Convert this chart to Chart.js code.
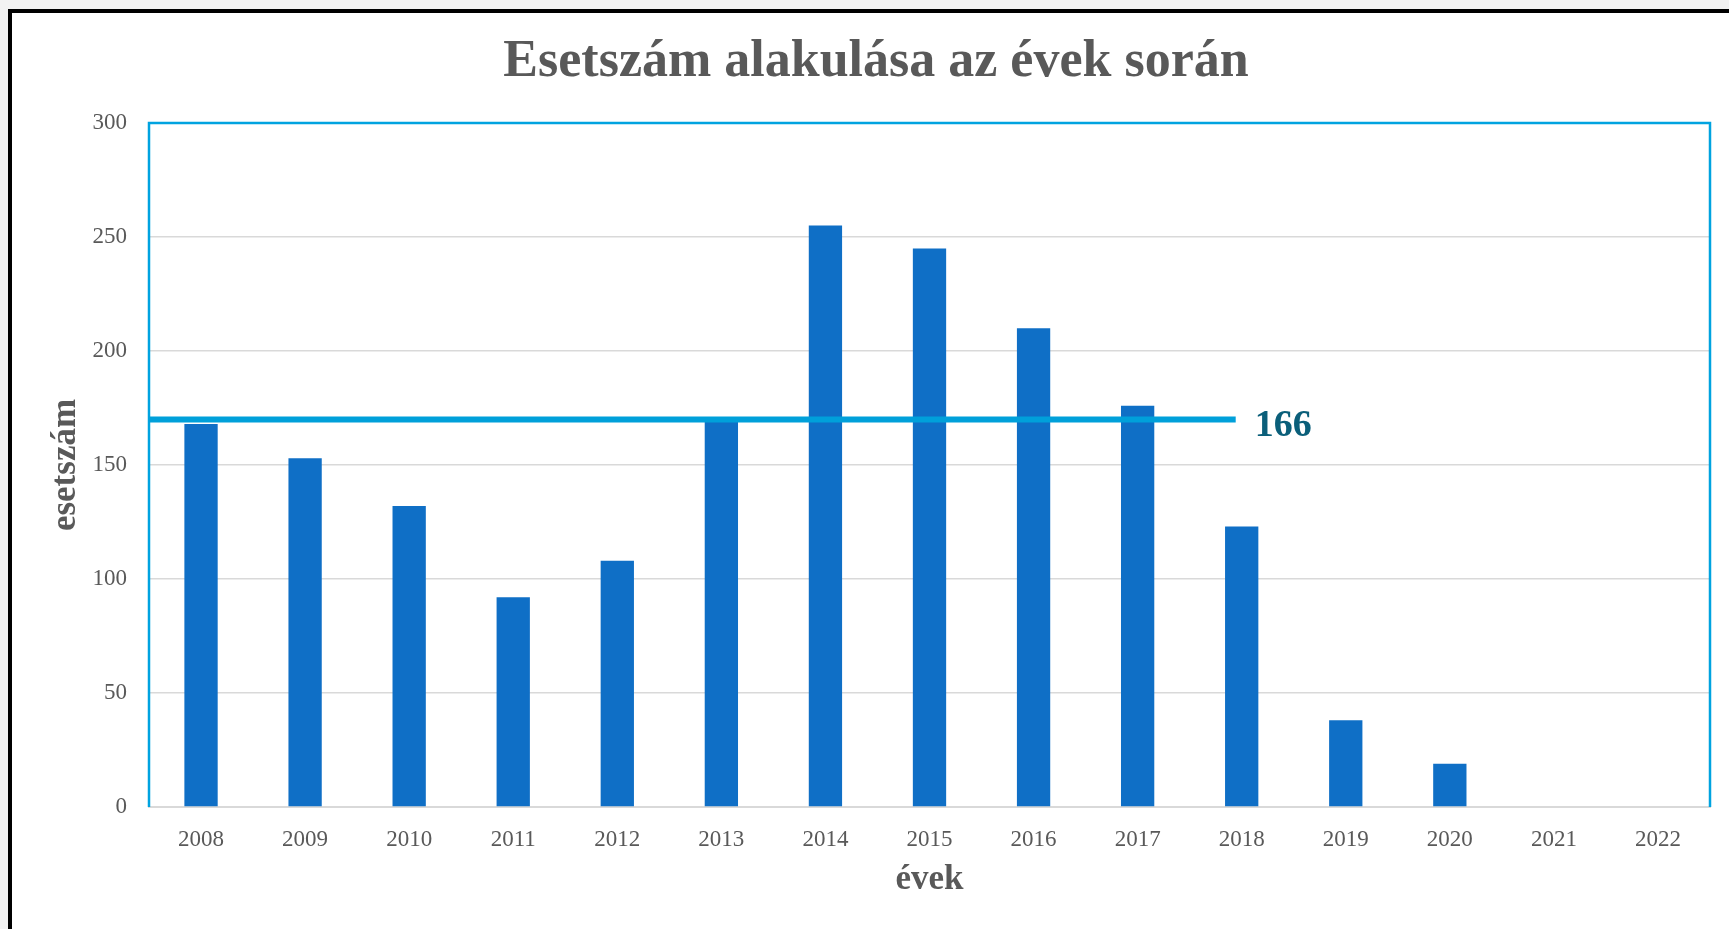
<!DOCTYPE html>
<html>
<head>
<meta charset="utf-8">
<script src="https://cdn.jsdelivr.net/npm/chart.js@4.4.1/dist/chart.umd.min.js"></script>
<style>
  html, body { margin: 0; padding: 0; background: #f2f2f2; overflow: hidden; }
  #frame {
    position: absolute; left: 8px; top: 9px; width: 1800px; height: 1000px;
    background: #fff; border-left: 4px solid #000; border-top: 4px solid #000;
  }
  #wrap { position: absolute; left: 0; top: 0; width: 1729px; height: 929px; }
</style>
</head>
<body>
<div id="frame"></div>
<div id="wrap"><canvas id="chart"></canvas></div>
<script>
// Esetszám alakulása az évek során
const years = ['2008', '2009', '2010', '2011', '2012', '2013', '2014', '2015',
               '2016', '2017', '2018', '2019', '2020', '2021', '2022'];
const cases = [168, 153, 132, 92, 108, 169, 255, 245, 210, 176, 123, 38, 19, null, null];

const yMin = 0;
const yMax = 300;
const yStep = 50;

// average line drawn across the plot
const averageValue = 170;
const averageLabel = '166';
const averageEndYear = '2018';

const textGray = '#595959';
const serif = '"Liberation Serif", "DejaVu Serif", serif';

// title, blue plot frame and the average line
const decorPlugin = {
    id: 'decor',
    beforeDatasetsDraw(chart) {
        const { ctx, chartArea } = chart;
        ctx.save();
        ctx.strokeStyle = '#00a3e0';
        ctx.lineWidth = 2.5;
        ctx.beginPath();
        ctx.moveTo(chartArea.left, chartArea.bottom);
        ctx.lineTo(chartArea.left, chartArea.top);
        ctx.lineTo(chartArea.right, chartArea.top);
        ctx.lineTo(chartArea.right, chartArea.bottom);
        ctx.stroke();
        ctx.restore();
    },
    afterDatasetsDraw(chart) {
        const { ctx, chartArea, scales } = chart;
        const y = scales.y.getPixelForValue(averageValue);
        const xEnd = scales.x.getPixelForValue(years.indexOf(averageEndYear)) - 6;
        ctx.save();
        ctx.strokeStyle = '#00a0da';
        ctx.lineWidth = 6;
        ctx.beginPath();
        ctx.moveTo(chartArea.left, y);
        ctx.lineTo(xEnd, y);
        ctx.stroke();

        ctx.fillStyle = '#0b5f7a';
        ctx.font = 'bold 38px ' + serif;
        ctx.textAlign = 'left';
        ctx.textBaseline = 'middle';
        ctx.fillText(averageLabel, xEnd + 19, y + 7);

        ctx.fillStyle = textGray;
        ctx.font = 'bold 52px ' + serif;
        ctx.textAlign = 'center';
        ctx.fillText('Esetszám alakulása az évek során', 876, 63);
        ctx.restore();
    }
};

new Chart(document.getElementById('chart'), {
    type: 'bar',
    data: {
        labels: years,
        datasets: [{
            label: 'esetszám',
            data: cases,
            backgroundColor: '#0f6fc6',
            borderWidth: 0,
            categoryPercentage: 0.32,
            barPercentage: 1
        }]
    },
    options: {
        responsive: true,
        maintainAspectRatio: false,
        animation: false,
        layout: {
            padding: { top: 123, right: 19, bottom: 0, left: 0 }
        },
        plugins: {
            legend: { display: false },
            title: { display: false },
            tooltip: { enabled: false }
        },
        scales: {
            x: {
                grid: { display: false, drawTicks: false },
                border: { display: true, color: '#d9d9d9', width: 2 },
                ticks: {
                    color: textGray,
                    font: { family: serif, size: 23 },
                    padding: 19,
                    maxRotation: 0
                },
                title: {
                    display: true,
                    text: 'évek',
                    color: textGray,
                    font: { family: serif, size: 35, weight: 'bold' },
                    padding: { top: 0, bottom: 28 }
                },
                afterFit(scale) { scale.height = 122; }
            },
            y: {
                min: yMin,
                max: yMax,
                ticks: {
                    stepSize: yStep,
                    color: textGray,
                    font: { family: serif, size: 23 },
                    padding: 22
                },
                grid: { color: '#d9d9d9', lineWidth: 1.5, drawTicks: false },
                border: { display: false },
                title: {
                    display: true,
                    text: 'esetszám',
                    color: textGray,
                    font: { family: serif, size: 35, weight: 'bold' },
                    padding: { top: 45, bottom: 0 }
                },
                afterFit(scale) { scale.width = 149; }
            }
        }
    },
    plugins: [decorPlugin]
});
</script>
</body>
</html>
